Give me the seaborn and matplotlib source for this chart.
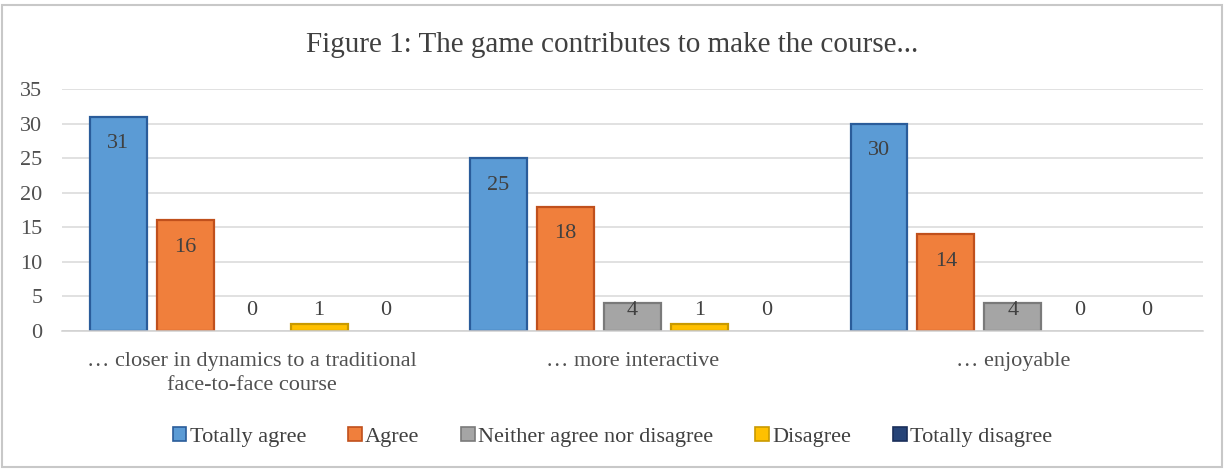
import matplotlib
matplotlib.use("Agg")
import matplotlib.pyplot as plt
from matplotlib.patches import Patch, Rectangle
import seaborn as sns
import pandas as pd

categories = ["\u2026 closer in dynamics to a traditional\nface-to-face course",
              "\u2026 more interactive",
              "\u2026 enjoyable"]
responses = ["Totally agree", "Agree", "Neither agree nor disagree", "Disagree", "Totally disagree"]
totally_agree = [31, 25, 30]
agree = [16, 18, 14]
neither = [0, 4, 4]
disagree = [1, 1, 0]
totally_disagree = [0, 0, 0]
title = "Figure 1: The game contributes to make the course..."
yticks = [0, 5, 10, 15, 20, 25, 30, 35]

series = [totally_agree, agree, neither, disagree, totally_disagree]
rows = []
for resp, vals in zip(responses, series):
    for cat, v in zip(categories, vals):
        rows.append({"category": cat, "response": resp, "value": v})
df = pd.DataFrame(rows)

fills = ["#5B9BD5", "#F07F3C", "#A5A5A5", "#FFC000", "#264478"]
edges = ["#2A5C9A", "#C0501C", "#7A7A7A", "#C99A00", "#1A2F5A"]

sns.set_theme(style="white")
plt.rcParams["font.family"] = ["Liberation Serif", "DejaVu Serif"]

fig = plt.figure(figsize=(12.25, 4.7), dpi=100)
ax = fig.add_axes([62/1225, 139/470, (1203-62)/1225, (331-89)/470])

sns.barplot(data=df, x="category", y="value", hue="response", hue_order=responses,
            order=categories, palette=fills, width=0.88, gap=0.15, ax=ax,
            legend=False, saturation=1)

for cont, ec, vals in zip(ax.containers, edges, series):
    for bar, v in zip(cont, vals):
        bar.set_edgecolor(ec)
        bar.set_linewidth(1.6 if v > 0 else 0)

for cont, vals in zip(ax.containers, series):
    for bar, v in zip(cont, vals):
        x = bar.get_x() + bar.get_width() / 2
        y = max(v - 3.9, 3.0)
        ax.text(x, y, str(v), ha="center", va="center", fontsize=16, color="#404040")

ax.set_ylim(0, 35)
ax.set_xlim(-0.5, 2.5)
ax.set_yticks(yticks)
ax.set_xticks(range(len(categories)), labels=categories, linespacing=1.35)
ax.yaxis.grid(True, color="#D9D9D9", linewidth=1.1)
ax.set_axisbelow(True)
for s in ["top", "right", "left"]:
    ax.spines[s].set_visible(False)
ax.spines["bottom"].set_color("#D0D0D0")
ax.spines["bottom"].set_linewidth(1.1)
ax.tick_params(axis="both", length=0, labelsize=16, labelcolor="#505050")
ax.tick_params(axis="x", pad=15)
ax.tick_params(axis="y", pad=14)
ax.set_xlabel("")
ax.set_ylabel("")

fig.text(0.5, 1 - 45/470, title, ha="center", va="center", fontsize=21, color="#404040")

handles = [Patch(facecolor=f, edgecolor=e, linewidth=1.2) for f, e in zip(fills, edges)]
fig.legend(handles, responses, loc="center", bbox_to_anchor=(0.5, 1 - 437/470), ncol=5,
           frameon=False, fontsize=16, handlelength=0.6, handleheight=0.6,
           handletextpad=0.15, columnspacing=1.9, labelcolor="#404040")

fig.patches.append(Rectangle((2/1225, 3/470), 1220/1225, 462/470, transform=fig.transFigure,
                             fill=False, edgecolor="#C8C8C8", linewidth=1.5))

fig.savefig("out.png", dpi=100, facecolor="white")
